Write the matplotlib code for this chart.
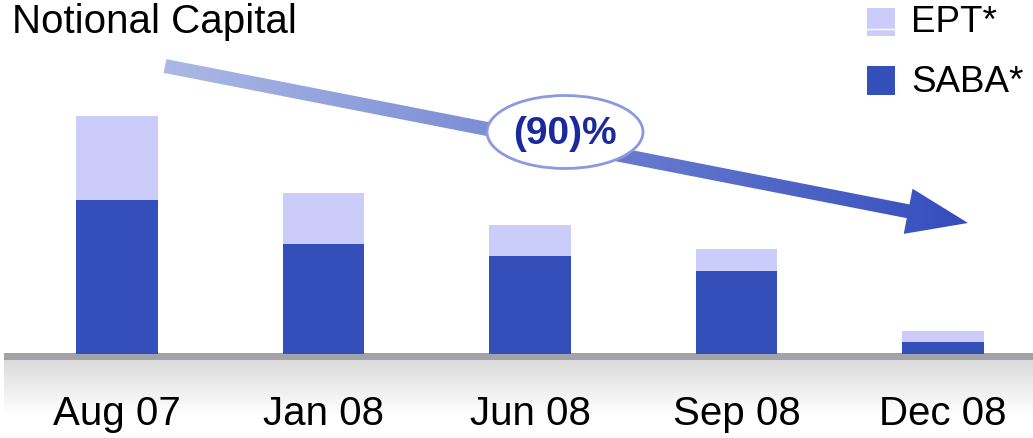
import numpy as np
import matplotlib
matplotlib.use("Agg")
import matplotlib.pyplot as plt
from matplotlib.patches import Polygon, Ellipse, Rectangle

# data (arbitrary units)
periods = ["Aug 07", "Jan 08", "Jun 08", "Sep 08", "Dec 08"]
saba = [154, 110, 98, 83, 12]
ept = [84, 51, 31, 22, 11]

SABA_C = "#344eba"
EPT_C = "#ccccfa"
FONT = ["Liberation Sans", "DejaVu Sans"]
plt.rcParams["font.family"] = FONT

W, H = 1033, 439
fig = plt.figure(figsize=(W / 100, H / 100), dpi=100)

# floor strip below the baseline
floor = fig.add_axes([0, 0, 1, 85 / H])
floor.set_xlim(0, W)
floor.set_ylim(85, 0)
grad = np.linspace(0.86, 1.0, 60)
grad = np.clip(np.concatenate([grad, np.ones(25)]), 0, 1)
floor.imshow(np.tile(grad[:, None, None], (1, 2, 3)), extent=[4, W, 85, 7],
             aspect="auto", interpolation="bilinear")
floor.add_patch(Rectangle((4, 0), W - 4, 7, color="#a2a2aa", lw=0))
floor.axis("off")

# bars
ax = fig.add_axes([0, 84 / H, 1, 1 - 84 / H])
x = np.arange(len(periods))
ax.bar(x, saba, width=0.397, color=SABA_C, lw=0)
ax.bar(x, ept, width=0.397, bottom=saba, color=EPT_C, lw=0)
ax.set_xlim(-117 / 206.5, (W - 117) / 206.5)
ax.set_ylim(0, 355)
ax.set_xticks(x)
ax.set_xticklabels(periods, fontsize=29)
ax.tick_params(axis="x", length=0, pad=29)
ax.set_yticks([])
for s in ax.spines.values():
    s.set_visible(False)
ax.patch.set_alpha(0)

# overlay in pixel coords: title, arrow, ellipse, legend
ov = fig.add_axes([0, 0, 1, 1], zorder=5)
ov.set_xlim(0, W)
ov.set_ylim(H, 0)
ov.axis("off")
ov.patch.set_alpha(0)

ov.text(12, 22, "Notional Capital", fontsize=29, va="center", ha="left")

p0 = np.array([165.0, 67.0])
tip = np.array([968.0, 224.0])
d = (tip - p0) / np.linalg.norm(tip - p0)
n = np.array([-d[1], d[0]])
hl, hw, sw = 61, 23, 7
base = tip - d * hl
pts = [p0 + n * sw, base + n * sw, base + n * hw, tip,
       base - n * hw, base - n * sw, p0 - n * sw]
arrow = Polygon(pts, closed=True, fc="none", ec="none")
ov.add_patch(arrow)
c0 = np.array([0.68, 0.73, 0.90])
c1 = np.array([0.20, 0.30, 0.74])
t = np.linspace(0, 1, 200)
img = (c0[None, :] * (1 - t[:, None]) + c1[None, :] * t[:, None])[None, :, :]
im = ov.imshow(img, extent=[p0[0] - 10, tip[0] + 5, 245, 50], aspect="auto")
im.set_clip_path(arrow)
ov.set_xlim(0, W)
ov.set_ylim(H, 0)

ov.add_patch(Ellipse((565, 133), 156, 73, fc="white", ec="#8c98df", lw=2))
ov.text(565, 134, "(90)%", fontsize=28, fontweight="bold", color="#1a2a9c",
        ha="center", va="center")

# legend
ov.add_patch(Rectangle((867, 9), 28, 28, color=EPT_C, lw=0))
ov.plot([867, 895], [30, 30], color="white", lw=1)
ov.add_patch(Rectangle((867, 67), 28, 29, color=SABA_C, lw=0))
ov.text(911, 23, "EPT*", fontsize=26.5, va="center", ha="left")
ov.text(911, 82, "SABA*", fontsize=26.5, va="center", ha="left")

fig.savefig("out.png", dpi=100)
